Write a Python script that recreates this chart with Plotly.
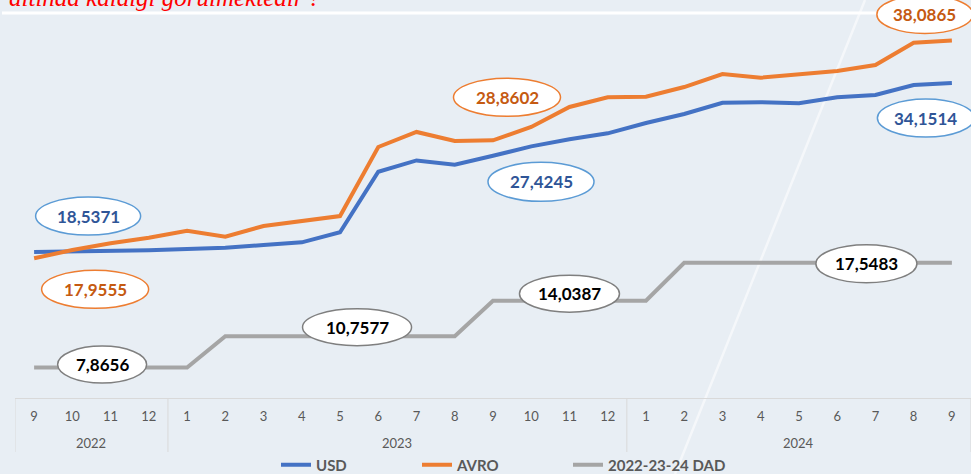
import plotly.graph_objects as go

# ---------------- data ----------------
years = ["2022"] * 4 + ["2023"] * 12 + ["2024"] * 9
months = ["9", "10", "11", "12",
          "1", "2", "3", "4", "5", "6", "7", "8", "9", "10", "11", "12",
          "1", "2", "3", "4", "5", "6", "7", "8", "9"]

usd = [18.5371, 18.57, 18.63, 18.69, 18.81, 18.93, 19.18, 19.43, 20.36,
       25.95, 27.00, 26.60, 27.4245, 28.30, 28.95, 29.50,
       30.46, 31.29, 32.33, 32.37, 32.28, 32.83, 33.04, 33.97, 34.1514]

avro = [17.9555, 18.72, 19.34, 19.86, 20.50, 19.95, 20.94, 21.43, 21.86,
        28.24, 29.63, 28.79, 28.8602, 30.09, 31.94, 32.83,
        32.89, 33.78, 34.98, 34.64, 34.98, 35.26, 35.81, 37.87, 38.0865]

dad = [7.8656] * 5 + [10.7577] * 7 + [14.0387] * 5 + [17.5483] * 8

series_names = ["USD", "AVRO", "2022-23-24 DAD"]
year_labels = ["2022", "2023", "2024"]
title_text = "altında kaldığı görülmektedir !"

# ---------------- figure ----------------
W, H = 971, 474
ML, MR, MT, MB = 15, 0, 0, 76
PW, PH = W - ML - MR, H - MT - MB

def px_x(p):
    return (p - ML) / PW

def px_y(p):
    return (H - MB - p) / PH

idx = list(range(len(months)))
BLUE, ORANGE, GRAY = "#4472C4", "#ED7D31", "#A5A5A5"
FONT = "Lato"

fig = go.Figure()
fig.add_trace(go.Scatter(x=idx, y=usd, name=series_names[0], mode="lines",
                         line=dict(color=BLUE, width=4), legendwidth=96))
fig.add_trace(go.Scatter(x=idx, y=avro, name=series_names[1], mode="lines",
                         line=dict(color=ORANGE, width=4), legendwidth=106))
fig.add_trace(go.Scatter(x=idx, y=dad, name=series_names[2], mode="lines",
                         line=dict(color=GRAY, width=4)))

shapes = []
annotations = []

# callout ellipses anchored to data points
callouts = [
    # (series, index, dx, dy, w, h, border, textcolor)
    (usd, 0, 54, 36, 105, 38, "#5B9BD5", "#2F5597"),
    (avro, 0, 61, -31, 107, 38, "#ED7D31", "#C55A11"),
    (dad, 0, 68, 3, 89, 37, "#7F7F7F", "#000000"),
    (dad, 8, 17, 9, 109, 37, "#7F7F7F", "#000000"),
    (dad, 14, 0, 7, 100, 37, "#7F7F7F", "#000000"),
    (dad, 22, -9, -1, 101, 38, "#7F7F7F", "#000000"),
    (avro, 12, 14, 43, 107, 38, "#ED7D31", "#C55A11"),
    (usd, 12, 48, -26, 106, 39, "#5B9BD5", "#2F5597"),
    (usd, 24, -26, -35, 97, 38, "#5B9BD5", "#2F5597"),
    (avro, 24, -27, 26, 96, 38, "#ED7D31", "#C55A11"),
]
for ser, i, dx, dy, w, h, bc, tc in callouts:
    val = ser[i]
    shapes.append(dict(type="circle", xref="x", yref="y",
                       xsizemode="pixel", ysizemode="pixel",
                       xanchor=i, yanchor=val,
                       x0=dx - w / 2, x1=dx + w / 2,
                       y0=dy - h / 2, y1=dy + h / 2,
                       fillcolor="white", line=dict(color=bc, width=1.5),
                       layer="above"))
    annotations.append(dict(x=i, y=val, xref="x", yref="y",
                            xshift=dx, yshift=dy, showarrow=False,
                            text="<b>" + f"{val:.4f}".replace(".", ",") + "</b>",
                            font=dict(family=FONT, size=17, color=tc)))

# category group dividers
for b in [-0.5, 3.5, 15.5, 24.5]:
    shapes.append(dict(type="line", xref="x", yref="paper", x0=b, x1=b,
                       y0=0, y1=px_y(452), line=dict(color="#D9D9D9", width=1),
                       layer="above"))

# year labels
groups = [(0, 3), (4, 15), (16, 24)]
for lab, (a, b) in zip(year_labels, groups):
    annotations.append(dict(x=(a + b) / 2, y=px_y(443), xref="x", yref="paper",
                            text=lab, showarrow=False, yanchor="middle",
                            font=dict(family=FONT, size=13, color="#595959")))

# decorative background lines
shapes.append(dict(type="line", xref="paper", yref="paper",
                   x0=px_x(865), y0=px_y(0), x1=px_x(675), y1=px_y(474),
                   line=dict(color="rgba(255,255,255,0.55)", width=2.5), layer="below"))
shapes.append(dict(type="line", xref="paper", yref="paper",
                   x0=px_x(2), y0=px_y(13), x1=px_x(885), y1=px_y(13),
                   line=dict(color="white", width=3), layer="below"))

# cut-off red heading
annotations.append(dict(x=px_x(320), y=px_y(13), xref="paper", yref="paper",
                        xanchor="right", yanchor="bottom", showarrow=False,
                        text="<i>" + title_text + "</i>",
                        font=dict(family="Liberation Serif", size=25, color="#FF0000")))

fig.update_layout(
    width=W, height=H,
    margin=dict(l=ML, r=MR, t=MT, b=MB, pad=0, autoexpand=False),
    paper_bgcolor="#E8EEF4", plot_bgcolor="#E8EEF4",
    shapes=shapes, annotations=annotations,
    showlegend=True,
    legend=dict(orientation="h", x=px_x(276), xanchor="left",
                y=px_y(465), yanchor="middle",
                font=dict(family=FONT, size=15, color="#595959", weight="bold"),
                bgcolor="rgba(0,0,0,0)", itemwidth=30),
    xaxis=dict(range=[-0.5, 24.5], tickmode="array", tickvals=idx, ticktext=months,
               showgrid=False, zeroline=False, showline=True, linecolor="#D9D9D9",
               linewidth=1, ticks="", ticklabelstandoff=6, automargin=False,
               tickfont=dict(family=FONT, size=13, color="#595959"), fixedrange=True),
    yaxis=dict(range=[5.05, 41.82], visible=False, showgrid=False, zeroline=False,
               fixedrange=True, automargin=False),
)

fig.write_html("out.html", config={"displayModeBar": False},
               post_script="document.body.style.margin='0px';document.body.style.overflow='hidden';")
